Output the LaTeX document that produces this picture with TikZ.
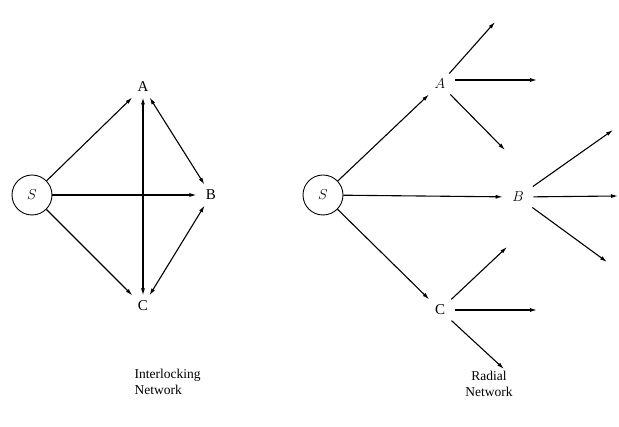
\documentclass[tikz,border=0pt]{standalone}
\usepackage{fontspec}
\setmainfont{Liberation Serif}
\usetikzlibrary{arrows.meta}

\begin{document}
\begin{tikzpicture}[x=1pt,y=-1pt,line width=1.1pt,
  every node/.style={inner xsep=9pt,inner ysep=5pt,font=\fontsize{15}{17}\selectfont},
  src/.style={circle,draw,line width=.9pt,minimum size=40pt,inner sep=0pt},
  nettitle/.style={inner sep=0pt,font=\fontsize{13.5}{15.5}\selectfont},
  arr/.style={-{Latex[length=7pt,width=4pt]}},
  dbl/.style={{Latex[length=7pt,width=4pt]}-{Latex[length=7pt,width=4pt]}}]
\useasboundingbox (0,0) rectangle (619,427);
% interlocking network
\node[src] (s1) at (32,195) {$S$};
\node (a1) at (143,87) {A};
\node (b1) at (211,195) {B};
\node (c1) at (143,306) {C};
\draw[arr] (s1)--(a1);
\draw[arr] (s1)--(b1);
\draw[arr] (s1)--(c1);
\draw[dbl] (a1)--(b1);
\draw[dbl] (a1)--(c1);
\draw[dbl] (b1)--(c1);
\node[nettitle,align=left,anchor=north west] (t1) at (134,369) {Interlocking\\Network};
% radial network
\node[src] (s2) at (323,195) {$S$};
\node (a2) at (440,84) {$A$};
\node (b2) at (518,197) {$B$};
\node (c2) at (440,310) {C};
\draw[arr] (s2)--(a2);
\draw[arr] (s2)--(b2);
\draw[arr] (s2)--(c2);
\coordinate (a2x) at (495,22);\coordinate (a2y) at (537,80);\coordinate (a2z) at (505,150);
\coordinate (b2x) at (613,130);\coordinate (b2y) at (618,196);\coordinate (b2z) at (607,262);
\coordinate (c2x) at (507,247);\coordinate (c2y) at (537,310);\coordinate (c2z) at (504,369);
\draw[arr] (a2)--(a2x);\draw[arr] (a2.east|-a2y)--(a2y);\draw[arr] (a2)--(a2z);
\draw[arr] (b2)--(b2x);\draw[arr] (b2)--(b2y);\draw[arr] (b2)--(b2z);
\draw[arr] (c2)--(c2x);\draw[arr] (c2)--(c2y);\draw[arr] (c2)--(c2z);
\node[nettitle,align=center,anchor=north] (t2) at (489,371) {Radial\\Network};
\end{tikzpicture}
\end{document}
